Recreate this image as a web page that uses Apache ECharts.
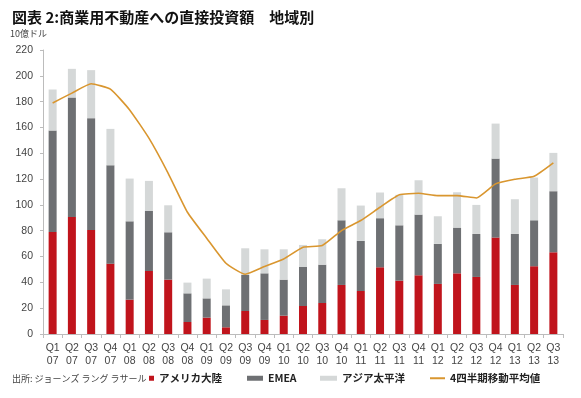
<!DOCTYPE html>
<html><head><meta charset="utf-8">
<script src="https://cdn.jsdelivr.net/npm/echarts@6/dist/echarts.min.js"></script>
<style>html,body{margin:0;padding:0;background:#fff}#c{width:581px;height:398px}</style>
</head><body><div id="c"></div>
<script>
const categories = ['Q1\n07','Q2\n07','Q3\n07','Q4\n07','Q1\n08','Q2\n08','Q3\n08','Q4\n08','Q1\n09','Q2\n09','Q3\n09','Q4\n09','Q1\n10','Q2\n10','Q3\n10','Q4\n10','Q1\n11','Q2\n11','Q3\n11','Q4\n11','Q1\n12','Q2\n12','Q3\n12','Q4\n12','Q1\n13','Q2\n13','Q3\n13'];
const americas = [79, 90.7, 80.6, 54.5, 26.6, 48.8, 42.1, 9.3, 12.7, 5.2, 17.8, 10.9, 14.2, 21.7, 24, 38, 33.3, 51.7, 41.3, 45.5, 38.8, 47, 44.2, 74.7, 38, 52.5, 63.3];
const emea = [78.6, 92.5, 86.6, 76.2, 60.7, 46.5, 36.7, 22.2, 14.9, 17.0, 27.9, 36.1, 27.9, 30.2, 29.7, 50.1, 38.8, 38.0, 42.9, 47.0, 31.0, 35.4, 33.3, 61.2, 39.5, 35.6, 47.3];
const asiaPacific = [31.8, 22.2, 37.2, 28.2, 33.1, 23.3, 20.9, 8.3, 15.3, 12.4, 20.7, 18.6, 23.5, 17.1, 19.7, 24.8, 27.4, 19.9, 23.6, 26.6, 21.4, 27.4, 22.5, 27.1, 26.9, 33.1, 29.7];
const movingAvg = [179, 186.6, 193.8, 189.7, 173.6, 151.7, 124.5, 94.3, 74.2, 54.8, 46.3, 52.2, 58.1, 67.2, 68.5, 80.1, 87.9, 98.2, 107.8, 109, 107.2, 107.2, 105.4, 116.3, 119.9, 122.2, 132.6];
const seriesNames = ['アメリカ大陸', 'EMEA', 'アジア太平洋', '4四半期移動平均値'];

const JP = '"Noto Sans CJK JP", sans-serif';
const chart = echarts.init(document.getElementById('c'), null, {renderer: 'canvas'});
const legendText = {fontSize: 10.5, fontWeight: 'bold', color: '#222', fontFamily: JP};
function lg(name, left, w, h) {
  return {data: [name], left: left, top: 373, itemWidth: w, itemHeight: h, icon: 'rect', itemGap: 0,
    textStyle: legendText, padding: 0, selectedMode: false};
}
chart.setOption({
  animation: false,
  title: {text: '図表 2:商業用不動産への直接投資額　地域別', left: 7, top: 5,
    textStyle: {fontSize: 15, fontWeight: 'bold', color: '#111', fontFamily: JP}},
  graphic: [
    {type: 'text', left: 10, top: 29, style: {text: '10億ドル', fontSize: 9, fill: '#444', fontFamily: JP}},
    {type: 'text', left: 12, top: 374, style: {text: '出所: ジョーンズ ラング ラサール', fontSize: 9, fill: '#444', fontFamily: JP}}
  ],
  legend: [lg(seriesNames[0], 149, 5, 5), lg(seriesNames[1], 247, 16, 5), lg(seriesNames[2], 320, 17, 5), lg(seriesNames[3], 430, 15, 2)],
  grid: {left: 43, right: 18, top: 50, bottom: 64},
  xAxis: {type: 'category', data: categories,
    axisLine: {lineStyle: {color: '#bcbcbc'}},
    axisTick: {show: true, length: 4, lineStyle: {color: '#bcbcbc'}},
    axisLabel: {interval: 0, fontSize: 10.5, color: '#444', lineHeight: 13, margin: 8, fontFamily: 'Liberation Sans, Arial, sans-serif'}},
  yAxis: {type: 'value', min: 0, max: 220, interval: 20,
    axisLine: {show: true, lineStyle: {color: '#bcbcbc'}},
    axisTick: {show: true, length: 3, lineStyle: {color: '#bcbcbc'}},
    splitLine: {show: false},
    axisLabel: {fontSize: 10.5, color: '#444', margin: 10, fontFamily: 'Liberation Sans, Arial, sans-serif'}},
  series: [
    {name: seriesNames[0], type: 'bar', stack: 'a', data: americas, barWidth: 8, itemStyle: {color: '#C0141C'}},
    {name: seriesNames[1], type: 'bar', stack: 'a', data: emea, barWidth: 8, itemStyle: {color: '#6E7073'}},
    {name: seriesNames[2], type: 'bar', stack: 'a', data: asiaPacific, barWidth: 8, itemStyle: {color: '#D5D8D8'}},
    {name: seriesNames[3], type: 'line', data: movingAvg, symbol: 'none', smooth: 0.15,
      lineStyle: {color: '#D9962F', width: 1.6}, itemStyle: {color: '#D9962F'}, z: 5}
  ]
});
</script></body></html>
